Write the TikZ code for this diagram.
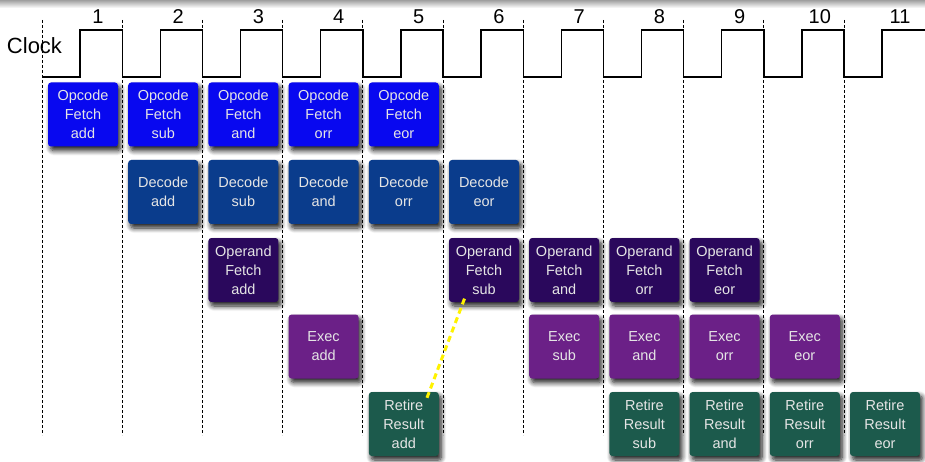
\documentclass[tikz,border=0pt]{standalone}
\usepackage{fontspec}
\setmainfont{Liberation Sans}
\usetikzlibrary{shadows.blur}

\definecolor{opcodeblue}{RGB}{8,8,240}
\definecolor{decodeblue}{RGB}{10,60,140}
\definecolor{operandpurple}{RGB}{42,8,92}
\definecolor{execpurple}{RGB}{107,32,135}
\definecolor{retiregreen}{RGB}{28,90,76}

\begin{document}
\begin{tikzpicture}[x=1pt,y=-1pt,
  stage/.style={rounded corners=3pt,minimum width=70pt,minimum height=64pt,inner sep=0pt,
    align=center,text=white!90!black,font=\fontsize{14.5}{19}\selectfont,
    blur shadow={shadow xshift=2.5pt,shadow yshift=-4pt,shadow blur steps=8,
      shadow blur radius=5pt,shadow opacity=90}},
  tick/.style={dash pattern=on 3pt off 2pt,line width=0.7pt},
  clock/.style={line width=1.4pt}]

\useasboundingbox (0,0) rectangle (925,462);
\shade[top color=gray!75,bottom color=white] (0,0) rectangle (925,8);

\foreach \k in {0,...,10}
  \draw[tick] (42+80.2*\k,20) -- (42+80.2*\k,435);

\node[font=\fontsize{22}{24}\selectfont] (clk) at (34.5,46) {Clock};
\foreach \k in {1,...,11}
  \node[font=\fontsize{20}{22}\selectfont] (cyc\k) at (17.8+80.2*\k,17) {\k};

\draw[clock] (42,77) \foreach \k in {0,...,9} { -- ++(38,0) -- ++(0,-47) -- ++(42.2,0) -- ++(0,47) }
  -- ++(38,0) -- ++(0,-47) -- (925,30);

\foreach \i/\c in {add/1,sub/2,and/3,orr/4,eor/5}
  \node[stage,fill=opcodeblue] (ofetch\c) at (2.8+80.2*\c,114.5) {Opcode\\Fetch\\\i};
\foreach \i/\c in {add/2,sub/3,and/4,orr/5,eor/6}
  \node[stage,fill=decodeblue] (decode\c) at (2.8+80.2*\c,192) {Decode\\\i};
\foreach \i/\c in {add/3,sub/6,and/7,orr/8,eor/9}
  \node[stage,fill=operandpurple] (operand\c) at (2.8+80.2*\c,270) {Operand\\Fetch\\\i};
\foreach \i/\c in {add/4,sub/7,and/8,orr/9,eor/10}
  \node[stage,fill=execpurple] (exec\c) at (2.8+80.2*\c,346.5) {Exec\\\i};
\foreach \i/\c in {add/5,sub/8,and/9,orr/10,eor/11}
  \node[stage,fill=retiregreen] (retire\c) at (2.8+80.2*\c,424) {Retire\\Result\\\i};

% result of add needed by sub
\draw[yellow,line width=3pt,dash pattern=on 6pt off 4pt]
  ([shift={(-12,6)}]retire5.north east) -- ([shift={(17,-7)}]operand6.south west);

\end{tikzpicture}
\end{document}
